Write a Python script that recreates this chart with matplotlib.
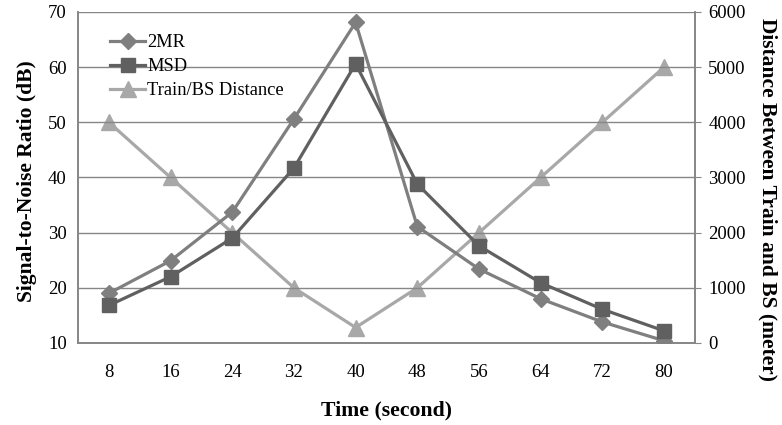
import matplotlib
matplotlib.use("Agg")
import matplotlib.pyplot as plt

# data
time_labels = ["8", "16", "24", "32", "40", "48", "56", "64", "72", "80"]
snr_2mr = [19.0, 24.9, 33.7, 50.6, 68.1, 31.1, 23.4, 18.0, 13.8, 10.4]
snr_msd = [16.8, 22.0, 29.0, 41.7, 60.6, 38.8, 27.6, 20.9, 16.1, 12.2]
distance = [4000, 3000, 2000, 1000, 280, 1000, 2000, 3000, 4000, 5000]

plt.rcParams["font.family"] = ["Liberation Serif", "DejaVu Serif"]

axis_grey = "#868686"

fig = plt.figure(figsize=(7.82, 4.25), dpi=100)
ax = fig.add_axes([0.0997, 0.193, 0.789, 0.779])
ax2 = ax.twinx()

x = list(range(len(time_labels)))

l1, = ax.plot(x, snr_2mr, color="#7f7f7f", lw=2.3, marker="D", ms=8,
              label="2MR", zorder=4)
l2, = ax.plot(x, snr_msd, color="#606060", lw=2.3, marker="s", ms=10,
              label="MSD", zorder=4)
l3, = ax2.plot(x, distance, color="#a8a8a8", lw=2.3, marker="^", ms=11,
               label="Train/BS Distance", zorder=3)

ax.set_zorder(ax2.get_zorder() + 1)
ax.patch.set_visible(False)

ax.set_xlim(-0.5, len(time_labels) - 0.5)
ax.set_ylim(10, 70)
ax.set_yticks(range(10, 71, 10))
ax2.set_ylim(0, 6000)
ax2.set_yticks(range(0, 6001, 1000))
ax.set_xticks(x)
ax.set_xticklabels(time_labels)

ax.yaxis.grid(True, color=axis_grey, lw=1)
ax.set_axisbelow(True)

for a in (ax, ax2):
    a.spines["top"].set_visible(False)
    for side in ("left", "right", "bottom"):
        a.spines[side].set_color(axis_grey)
        a.spines[side].set_linewidth(1.2)

ax.tick_params(axis="x", length=0, pad=15, labelsize=13.5)
ax.tick_params(axis="y", length=0, labelsize=13.5, pad=8)
ax2.tick_params(axis="y", length=4.5, color=axis_grey, labelsize=13.5, pad=5)

ax.set_xlabel("Time (second)", fontsize=15.7, fontweight="bold", labelpad=14)
ax.set_ylabel("Signal-to-Noise Ratio (dB)", fontsize=15.5, fontweight="bold",
              labelpad=8)
ax.yaxis.label.set_y(0.49)
ax2.set_ylabel("Distance Between Train and BS (meter)", fontsize=15.5,
               fontweight="bold", rotation=270, labelpad=23)
ax2.yaxis.label.set_y(0.432)

leg = ax.legend(handles=[l1, l2, l3], loc="upper left",
                bbox_to_anchor=(0.04, 0.955), frameon=False, fontsize=13.3,
                handlelength=1.9, handletextpad=0.1, labelspacing=0.38,
                borderaxespad=0)
leg.set_zorder(10)

fig.savefig("out.png", dpi=100)
